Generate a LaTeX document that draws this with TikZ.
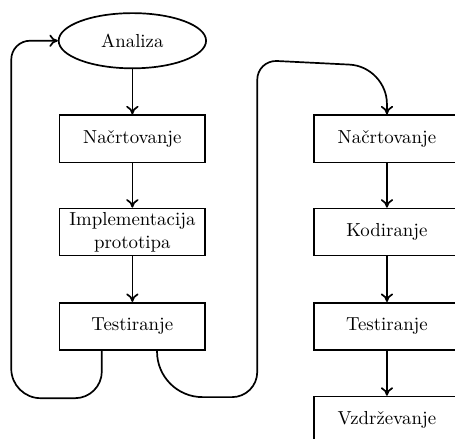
\documentclass[tikz,border=0pt]{standalone}
\usepackage{fontspec}
\usepackage{tikz}
\usetikzlibrary{arrows,arrows.meta}
\usetikzlibrary{shapes}

\tikzset{
  korak/.style={draw,line width=0.9pt,rectangle,minimum width=2.72cm,minimum height=0.88cm,align=center,inner sep=1pt},
  zacetek/.style={draw,line width=0.9pt,ellipse,minimum width=2.75cm,minimum height=1.03cm,inner sep=0pt},
  puscica/.style={-{To[length=4.5pt,width=6.5pt]},line width=0.9pt}
}

\begin{document}
\begin{tikzpicture}
    \useasboundingbox (0,0) rectangle (8.49,8.19);

    \node[zacetek] (a) at (2.47,7.43) {Analiza};

    \foreach \y/\t/\k in {5.60/Na\v{c}rtovanje/1,3.86/{Implementacija\\prototipa}/2,2.10/Testiranje/3}
        \node[korak] (l\k) at (2.47,\y) {\t};
    \foreach \y/\t/\k in {5.60/Na\v{c}rtovanje/1,3.86/Kodiranje/2,2.10/Testiranje/3,0.35/Vzdr\v{z}evanje/4}
        \node[korak] (r\k) at (7.22,\y) {\t};

    \draw[puscica] (a) -- (l1);
    \foreach \k/\j in {1/2,2/3}
      \draw[puscica] (l\k) -- (l\j);
    \foreach \k/\j in {1/2,2/3,3/4}
      \draw[puscica] (r\k) -- (r\j);

    % nazaj na analizo
    \draw[puscica] ([xshift=-0.57cm]l3.south) [rounded corners=0.5cm] -- (1.90,0.76) [rounded corners=0.55cm]
        -- (0.21,0.76) [rounded corners=0.35cm] -- (0.21,7.43) -- (a.west);
    % naprej na desni stolpec
    \draw[puscica] ([xshift=0.46cm]l3.south) [rounded corners=0.85cm] -- (2.93,0.78) [rounded corners=0.47cm]
        -- (4.80,0.78) [rounded corners=0.37cm] -- (4.80,7.07) [rounded corners=0.7cm]
        -- (7.22,6.95) -- (r1.north);
\end{tikzpicture}
\end{document}
